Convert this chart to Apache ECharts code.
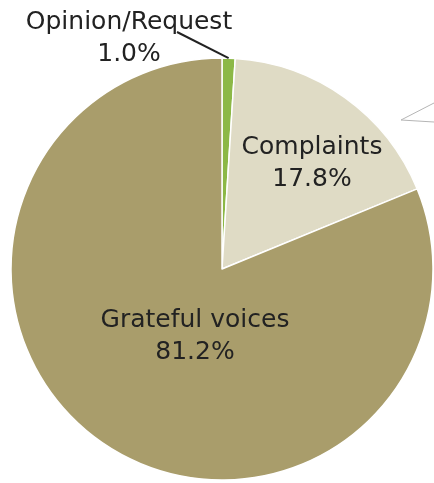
<!doctype html>
<html>
	<head>
		<meta charset="UTF-8">
		<title></title>
		<script src="https://cdn.jsdelivr.net/npm/echarts@6/dist/echarts.min.js"></script>
		<style type="text/css">
			html,body{
				margin: 0;
				padding: 0;
				background-color: white;
			}
			#main{
				width: 434px;
				height: 483px;
			}
		</style>
	</head>
	<body>
		<div id="main"></div>
		<script type="text/javascript">
			// data
			var categories = ['Opinion/Request', 'Complaints', 'Grateful voices'];
			var shares = [1.0, 17.8, 81.2];
			var sliceColors = ['#8cb846', '#dfdbc5', '#a99d6b'];

			// where the labels sit (centre of the text block)
			var labelSpots = [[129, 38], [312, 163], [195, 336]];
			var cx = 222, cy = 269, R = 211;

			var myChart = echarts.init(document.getElementById('main'));

			var pieData = [];
			for (var i = 0; i < categories.length; i++) {
				pieData.push({
					name: categories[i],
					value: shares[i],
					itemStyle: { color: sliceColors[i] }
				});
			}

			// mid angle of the first slice, for the leader line
			var total = 0;
			for (var j = 0; j < shares.length; j++) total += shares[j];
			var midA = (shares[0] / 2) / total * 2 * Math.PI;
			var lineStart = [cx + R * Math.sin(midA), cy - R * Math.cos(midA)];

			var option = {
				animation: false,
				backgroundColor: '#ffffff',
				series: [{
					type: 'pie',
					center: [cx, cy],
					radius: R,
					startAngle: 90,
					clockwise: true,
					data: pieData,
					itemStyle: {
						borderColor: '#ffffff',
						borderWidth: 1.5
					},
					label: {
						show: true,
						position: 'inside',
						formatter: function (p) {
							return p.name + '\n' + p.value.toFixed(1) + '%';
						},
						fontFamily: 'DejaVu Sans',
						fontSize: 25,
						lineHeight: 32,
						color: '#222222',
						align: 'center'
					},
					labelLine: { show: false },
					labelLayout: function (p) {
						var s = labelSpots[p.dataIndex];
						return { x: s[0], y: s[1], align: 'center', verticalAlign: 'middle' };
					}
				}],
				graphic: [
					{
						type: 'polyline',
						shape: { points: [lineStart, [177, 32]] },
						style: { stroke: '#222222', lineWidth: 2, fill: null },
						z: 10
					},
					{
						// callout stub at the right edge
						type: 'polyline',
						shape: { points: [[434, 103], [401, 120], [434, 122]] },
						style: { stroke: '#b5b5b5', lineWidth: 1, fill: null },
						z: 10
					}
				]
			};
			myChart.setOption(option);
		</script>
	</body>
</html>
